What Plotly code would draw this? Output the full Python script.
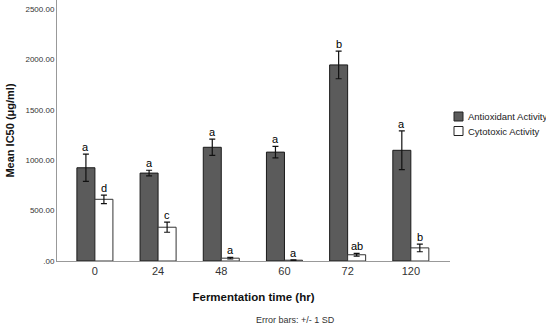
import plotly.graph_objects as go

categories = ["0", "24", "48", "60", "72", "120"]
antioxidant = [925, 872, 1128, 1080, 1945, 1098]
antioxidant_sd = [135, 28, 80, 58, 137, 192]
cytotoxic = [612, 335, 28, 8, 62, 130]
cytotoxic_sd = [42, 50, 8, 4, 13, 38]
antioxidant_letters = ["a", "a", "a", "a", "b", "a"]
cytotoxic_letters = ["d", "c", "a", "a", "ab", "b"]
series_names = ["Antioxidant Activity", "Cytotoxic Activity"]
ytick_vals = [0, 500, 1000, 1500, 2000, 2500]
ytick_text = [".00", "500.00", "1000.00", "1500.00", "2000.00", "2500.00"]

FONT = "Liberation Sans, Arial, sans-serif"
DARK = "#5b5b5b"

fig = go.Figure()
fig.add_trace(go.Bar(
    x=categories, y=antioxidant, name=series_names[0],
    marker=dict(color=DARK, line=dict(color="#1a1a1a", width=1)),
    error_y=dict(type="data", array=antioxidant_sd, color="#111", thickness=1.2, width=3),
))
fig.add_trace(go.Bar(
    x=categories, y=cytotoxic, name=series_names[1],
    marker=dict(color="#ffffff", line=dict(color="#333333", width=1)),
    error_y=dict(type="data", array=cytotoxic_sd, color="#111", thickness=1.2, width=3),
))

annots = []
for i, (v, e, t) in enumerate(zip(antioxidant, antioxidant_sd, antioxidant_letters)):
    annots.append(dict(x=i, y=v + e, text=t, xref="x", yref="y", showarrow=False,
                       xshift=-9, yanchor="bottom", yshift=-1,
                       font=dict(family=FONT, size=11, color="#000000")))
for i, (v, e, t) in enumerate(zip(cytotoxic, cytotoxic_sd, cytotoxic_letters)):
    annots.append(dict(x=i, y=v + e, text=t, xref="x", yref="y", showarrow=False,
                       xshift=9, yanchor="bottom", yshift=-1,
                       font=dict(family=FONT, size=11, color="#000000")))
annots.append(dict(x=0.608, y=-0.2, xref="paper", yref="paper", yanchor="top",
                   text="Error bars: +/- 1 SD", showarrow=False,
                   font=dict(family=FONT, size=9, color="#333")))

# custom legend (pixel-matched)
shapes = []
PH = 261.0  # plot height in px
PW = 393.0  # plot width in px
def px_x(px):
    return (px - 57) / PW
def px_y(py):
    return (261 - py) / PH
legend_fills = [DARK, "#ffffff"]
for k, (name, fill) in enumerate(zip(series_names, legend_fills)):
    top = 112 + k * 14.5
    shapes.append(dict(type="rect", xref="paper", yref="paper",
                       x0=px_x(454), x1=px_x(463), y0=px_y(top + 9), y1=px_y(top),
                       fillcolor=fill, line=dict(color="#222", width=1)))
    annots.append(dict(x=px_x(466), y=px_y(top + 4.5), xref="paper", yref="paper",
                       xanchor="left", yanchor="middle", text=name, showarrow=False,
                       font=dict(family=FONT, size=9.5, color="#222")))

fig.update_layout(
    width=546, height=324,
    margin=dict(l=57, r=96, t=0, b=63),
    paper_bgcolor="white", plot_bgcolor="white",
    barmode="group", bargap=0.43, bargroupgap=0,
    font=dict(family=FONT, color="#333"),
    showlegend=False,
    annotations=annots,
    shapes=shapes,
    xaxis=dict(type="category", range=[-0.6, 5.62], showline=True, linecolor="#999",
               linewidth=1, ticks="", showgrid=False, zeroline=False,
               tickfont=dict(family=FONT, size=11, color="#333"),
               title=dict(text="<b>Fermentation time (hr)</b>", standoff=16,
                          font=dict(family=FONT, size=11.5, color="#111"))),
    yaxis=dict(range=[0, 2589], showline=True, linecolor="#999", linewidth=1,
               ticks="", showgrid=False, zeroline=False,
               tickvals=ytick_vals, ticktext=ytick_text,
               tickfont=dict(family=FONT, size=8, color="#333"),
               title=dict(text="<b>Mean IC50 (μg/ml)</b>", standoff=8,
                          font=dict(family=FONT, size=11, color="#111"))),
)

fig.write_html("out.html")
